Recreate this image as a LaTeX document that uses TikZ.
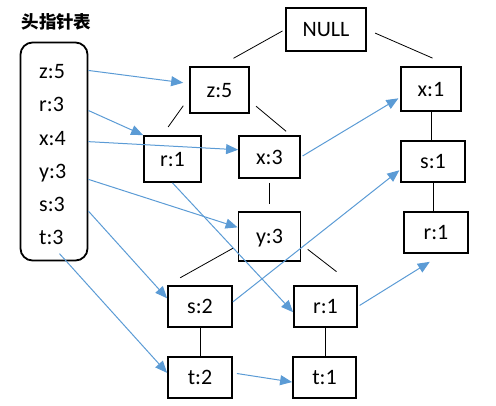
\documentclass[tikz,border=0pt]{standalone}
\usepackage{fontspec}
\setmainfont{Carlito}
\newfontfamily\cjk{Noto Sans CJK SC}
\usetikzlibrary{arrows.meta}
\definecolor{ptrblue}{RGB}{91,155,213}

\begin{document}
\begin{tikzpicture}[x=1pt, y=-1pt,
  box/.style={draw, line width=1.8pt, inner sep=0pt, text height=14pt, text depth=0pt,
    font=\fontsize{22}{26}\selectfont},
  entry/.style={anchor=west, inner sep=0pt, text height=14pt, text depth=0pt,
    font=\fontsize{22}{26}\selectfont},
  edge/.style={line width=0.8pt},
  ptr/.style={ptrblue, line width=1pt, -{Triangle[length=12pt,width=10pt]}}]
 \useasboundingbox (0,0) rectangle (496,405);

 % head pointer table
 \node (title) at (56.5,21.5) {\cjk\bfseries\fontsize{17.5}{20}\selectfont 头指针表};
 \node[draw, line width=1.8pt, rounded corners=12pt, minimum width=67pt, minimum height=218pt] (tab) at (54,151.5) {};
 \node[entry] (ez) at (39,71.5) {z:5};
 \node[entry] (er) at (39,104.5) {r:3};
 \node[entry] (ex) at (39,138) {x:4};
 \node[entry] (ey) at (39,171.5) {y:3};
 \node[entry] (es) at (39,204) {s:3};
 \node[entry] (et) at (39,237.5) {t:3};

 % tree
 \node[box, minimum width=80pt, minimum height=43pt] (null) at (326,29.5) {NULL};
 \node[box, minimum width=59pt, minimum height=46pt] (z5) at (219.5,90) {z:5};
 \node[box, minimum width=57pt, minimum height=46pt] (r1a) at (172.5,159) {r:1};
 \node[box, minimum width=61pt, minimum height=42pt] (x3) at (269.5,157) {x:3};
 \node[box, minimum width=62pt, minimum height=49pt] (y3) at (269.5,236.5) {y:3};
 \node[box, minimum width=64pt, minimum height=41pt] (s2) at (200,306.5) {s:2};
 \node[box, minimum width=64pt, minimum height=41pt] (t2) at (200,377.5) {t:2};
 \node[box, minimum width=63pt, minimum height=41pt] (r1b) at (325.5,306.5) {r:1};
 \node[box, minimum width=63pt, minimum height=41pt] (t1) at (324.5,377.5) {t:1};
 \node[box, minimum width=60pt, minimum height=44pt] (x1) at (431,89) {x:1};
 \node[box, minimum width=64pt, minimum height=41pt] (s1) at (433,161.5) {s:1};
 \node[box, minimum width=64pt, minimum height=41pt] (r1c) at (436,232.5) {r:1};

 \draw[edge, shorten <=3pt, shorten >=16pt] (null.west) -- (z5.north);
 \draw[edge, shorten <=9pt, shorten >=20pt] (null.east) -- (x1.49);
 \draw[edge, shorten <=10pt, shorten >=10pt] (z5.194) -- (r1a.113);
 \draw[edge, shorten <=8pt, shorten >=6pt] (z5.-20) -- (x3.46);
 \draw[edge, shorten <=4pt, shorten >=7pt] (x3.south) -- (y3.north);
 \draw[edge, shorten <=5pt, shorten >=15pt] (y3.196) -- (s2.north west);
 \draw[edge, shorten <=8pt, shorten >=22pt] (y3.-14) -- (r1b.37);
 \draw[edge] (x1.south) -- (x1.south |- s1.north);
 \draw[edge] (s1.south) -- (s1.south |- r1c.north);
 \draw[edge] (s2) -- (t2);
 \draw[edge] (r1b.south) -- (r1b.south |- t1.north);

 % node links
 \draw[ptr, shorten >=6pt] (tab.67) -- (z5.168);
 \draw[ptr] (tab.50) -- (r1a.north west);
 \draw[ptr] (tab.16) -- (x3.167);
 \draw[ptr] (tab.-39) -- (y3.164);
 \draw[ptr] (tab.-60) -- (s2.166);
 \draw[ptr, shorten <=12pt] (et.south) -- (t2.172);
 \draw[ptr] (r1a.south) -- (r1b.190);
 \draw[ptr, shorten <=2pt, shorten >=2pt] (x3.east) -- (x1.195);
 \draw[ptr, shorten >=1pt] (s2.8) -- (s1.194);
 \draw[ptr, shorten <=2pt, shorten >=15pt] (r1b.east) -- (r1c.-73);
 \draw[ptr, shorten <=4pt] (t2.8) -- (t1.188);
\end{tikzpicture}
\end{document}
